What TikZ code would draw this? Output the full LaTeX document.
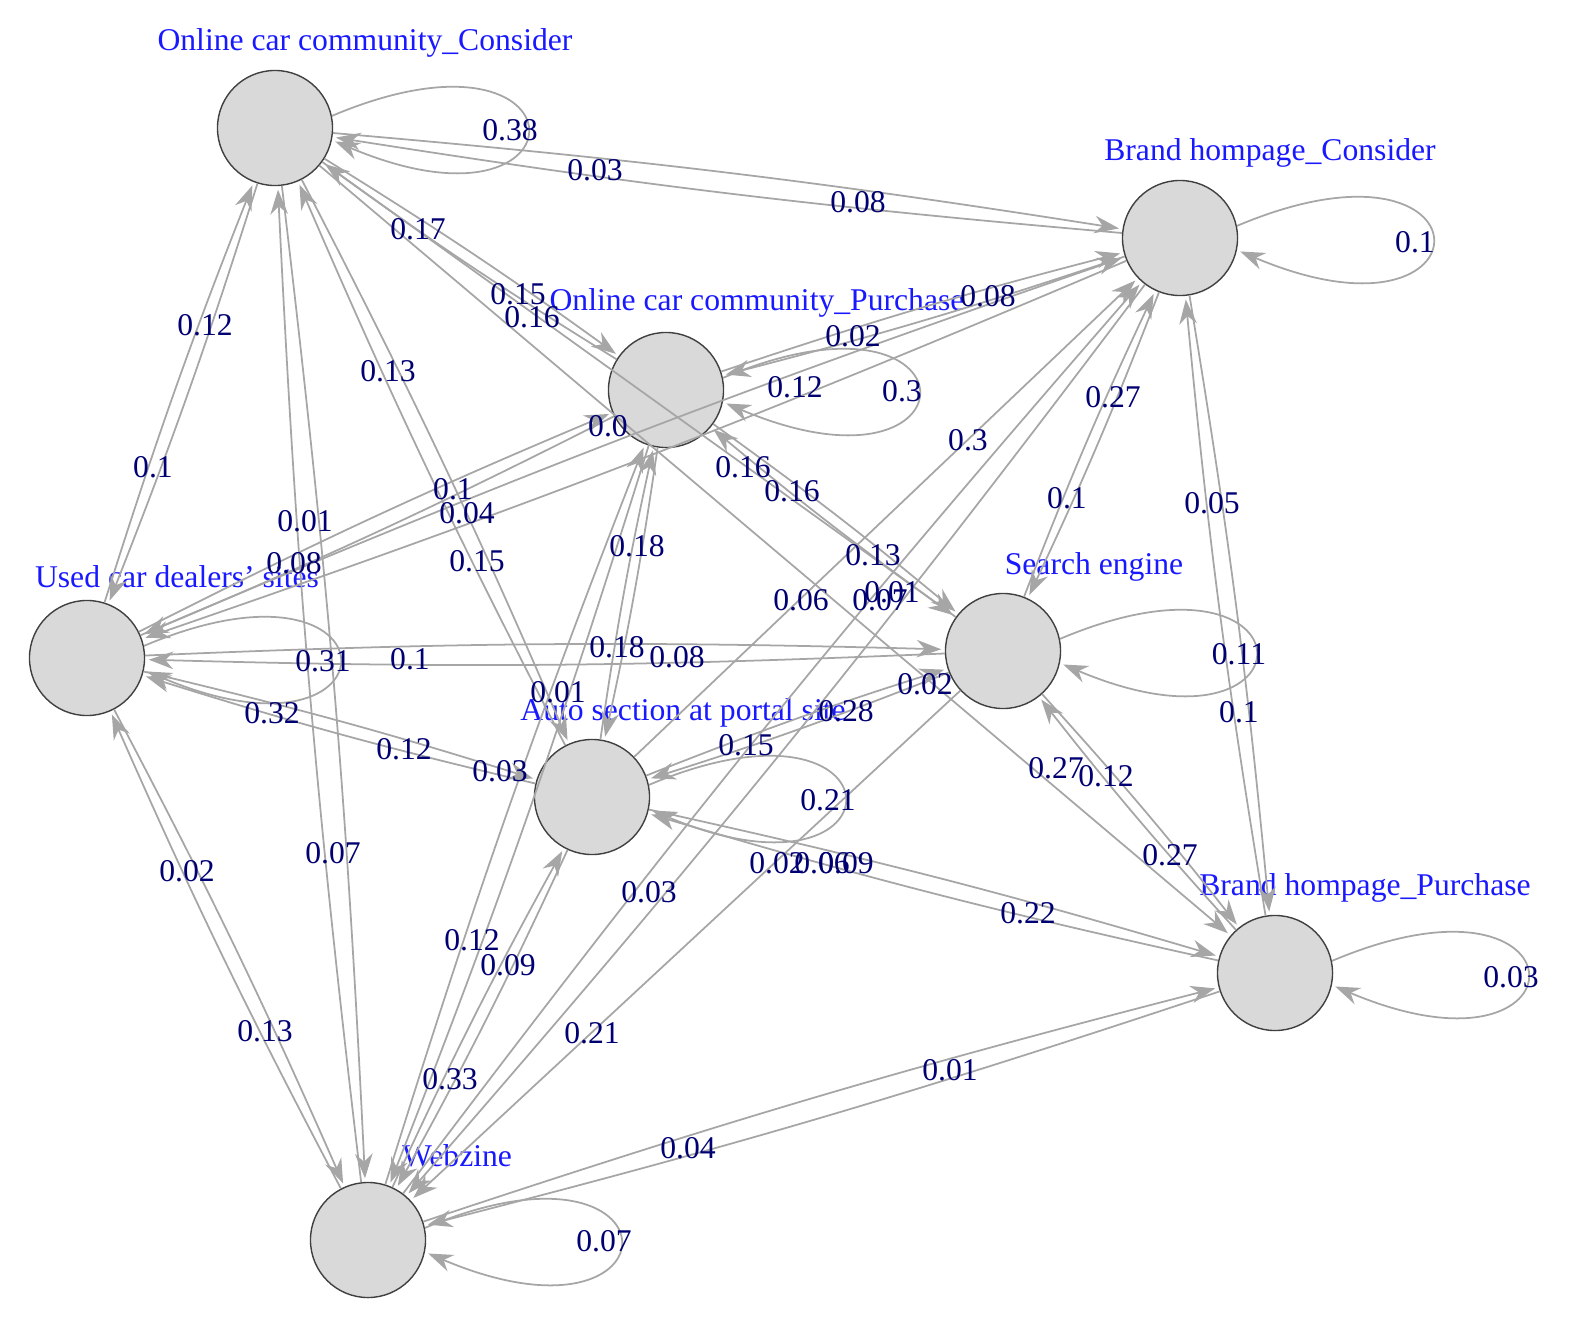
\documentclass[tikz,border=0pt]{standalone}
\usepackage{fontspec}
\setmainfont{Liberation Serif}
\usetikzlibrary{arrows.meta}
\begin{document}
\begin{tikzpicture}[x=0.01cm,y=-0.01cm,
  vert/.style={circle,draw=black!75,fill=black!15,minimum width=1.15cm,minimum height=1.15cm,inner sep=0},
  vlab/.style={text=blue!90!white,font=\fontsize{9}{10}\selectfont,inner sep=0},
  elab/.style={text=blue!45!black,font=\fontsize{9}{10}\selectfont,inner sep=0},
  edge/.style={draw=black!35,line width=0.5pt,-{Stealth[length=7pt,width=5pt]},shorten >=1pt}]
\useasboundingbox (0,0) rectangle (1582,1327);
\node[vert] (occ) at (275,128) {};
\node[vert] (bhc) at (1180,238) {};
\node[vert] (ocp) at (666,390) {};
\node[vert] (ucd) at (87,658) {};
\node[vert] (se) at (1003,651) {};
\node[vert] (as) at (592,797) {};
\node[vert] (bhp) at (1275,973) {};
\node[vert] (wz) at (368,1240) {};
\node[vlab] at (365,43) {Online car community\_Consider};
\node[vlab] at (1270,153) {Brand hompage\_Consider};
\node[vlab] at (757,303) {Online car community\_Purchase};
\node[vlab] at (177,577) {Used car dealers' sites};
\node[vlab] at (1094,567) {Search engine};
\node[vlab] at (683,713) {Auto section at portal site};
\node[vlab] at (1365,888) {Brand hompage\_Purchase};
\node[vlab] at (457,1156) {Webzine};
% self loops
\foreach \n in {occ,bhc,ocp,ucd,se,as,bhp,wz}{\draw[edge] (\n.12) .. controls +(260,-110) and +(260,110) .. (\n.-12);}
% pairs
\foreach \a/\b in {occ/bhc,occ/ocp,occ/ucd,occ/wz,occ/as,bhc/ocp,bhc/ucd,bhc/se,bhc/bhp,bhc/wz,ocp/ucd,ocp/se,ocp/as,ocp/wz,ucd/se,ucd/as,ucd/wz,se/as,se/bhp,as/bhp,as/wz,bhp/wz}{
  \draw[edge] (\a) to[bend left=2] (\b);
  \draw[edge] (\b) to[bend left=2] (\a);}
\draw[edge] (occ) -- (bhp);
\draw[edge] (as) -- (bhc);
\draw[edge] (se) -- (wz);
\draw[edge] (occ) -- (se);
% edge labels
\foreach \x/\y/\t in {510/130/0.38,595/170/0.03,858/202/0.08,1415/242/0.1,418/229/0.17,518/294/0.15,532/317/0.16,
 988/296/0.08,853/336/0.02,795/387/0.12,902/391/0.3,205/325/0.12,388/371/0.13,1113/397/0.27,968/440/0.3,
 153/467/0.1,305/521/0.01,453/489/0.1,467/513/0.04,294/563/0.08,477/561/0.15,637/546/0.18,743/467/0.16,
 792/491/0.16,1067/498/0.1,1212/503/0.05,873/555/0.13,892/592/0.01,880/600/0.07,801/600/0.06,
 323/661/0.31,410/659/0.1,617/647/0.18,677/657/0.08,1239/654/0.11,925/684/0.02,558/692/0.01,
 272/713/0.32,846/711/0.28,1239/712/0.1,404/749/0.12,746/745/0.15,500/771/0.03,1056/768/0.27,1106/776/0.12,
 828/800/0.21,187/871/0.02,333/853/0.07,1170/855/0.27,777/863/0.02,822/863/0.06,846/863/0.09,649/892/0.03,
 1028/913/0.22,472/940/0.12,508/965/0.09,1511/977/0.03,265/1031/0.13,592/1033/0.21,450/1079/0.33,
 950/1070/0.01,688/1148/0.04,604/1241/0.07}{\node[elab] at (\x,\y) {\t};}
\node[elab] at (608,426) {0.0};
\end{tikzpicture}
\end{document}
